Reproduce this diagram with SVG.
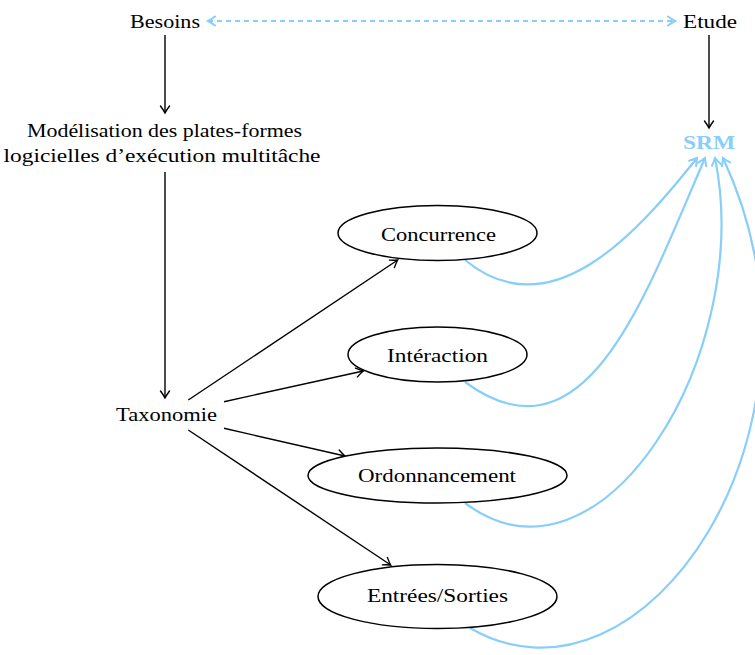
<svg xmlns="http://www.w3.org/2000/svg" width="755" height="655" viewBox="0 0 755 655">
<style>
  text { font-family: "Liberation Serif", "Times New Roman", serif; font-size: 19px; fill: #000; }
  .srm { fill: #87cefa; font-weight: bold; }
  .node ellipse { fill: #fff; stroke: #000; stroke-width: 1.5; }
  .blk { fill: none; stroke: #000; stroke-width: 1.4; marker-end: url(#ab); }
  .blu { fill: none; stroke: #87cefa; stroke-width: 2.2; marker-end: url(#au); }
  .dash { fill: none; stroke: #87cefa; stroke-width: 2; stroke-dasharray: 5 4; marker-start: url(#au2); marker-end: url(#au2); }
</style>
<defs>
  <marker id="ab" markerUnits="userSpaceOnUse" viewBox="-9 -6 11 12" refX="0" refY="0" markerWidth="11" markerHeight="12" orient="auto">
    <path d="M -7,-4.5 Q -2.5,-1.2 0,0 Q -2.5,1.2 -7,4.5" fill="none" stroke="#000" stroke-width="1.4" stroke-linecap="round"/>
  </marker>
  <marker id="au" markerUnits="userSpaceOnUse" viewBox="-9 -6 11 12" refX="0" refY="0" markerWidth="11" markerHeight="12" orient="auto">
    <path d="M -7,-4.5 Q -2.5,-1.2 0,0 Q -2.5,1.2 -7,4.5" fill="none" stroke="#87cefa" stroke-width="2" stroke-linecap="round"/>
  </marker>
  <marker id="au2" markerUnits="userSpaceOnUse" viewBox="-9 -6 11 12" refX="0" refY="0" markerWidth="11" markerHeight="12" orient="auto-start-reverse">
    <path d="M -7,-4.5 Q -2.5,-1.2 0,0 Q -2.5,1.2 -7,4.5" fill="none" stroke="#87cefa" stroke-width="2" stroke-linecap="round"/>
  </marker>
</defs>

<g id="connectors">
  <path class="dash" d="M 208,21 L 675,21"/>
  <path class="blk" d="M 165,35 L 165,113"/>
  <path class="blk" d="M 165,172 L 165,398"/>
  <path class="blk" d="M 709,35 L 709,128"/>
  <path class="blk" d="M 188.3,400 L 397.7,260"/>
  <path class="blk" d="M 224,401.7 L 363.3,371"/>
  <path class="blk" d="M 224,428.3 L 345,456"/>
  <path class="blk" d="M 188.3,430 L 390.7,565"/>
  <path class="blu" d="M 465,260 C 550,330 635,236 697,158"/>
  <path class="blu" d="M 465,382 C 586,471 645,296 705,158"/>
  <path class="blu" d="M 465,503 C 601,605 755,354 715,158"/>
  <path class="blu" d="M 470,628 C 642,728 849,428 723,158"/>
</g>

<g id="besoins"><text x="165" y="28" text-anchor="middle" textLength="70" lengthAdjust="spacingAndGlyphs">Besoins</text></g>
<g id="etude"><text x="710" y="28" text-anchor="middle" textLength="54" lengthAdjust="spacingAndGlyphs">Etude</text></g>
<g id="modelisation">
  <text x="164.5" y="137" text-anchor="middle" textLength="275" lengthAdjust="spacingAndGlyphs">Modélisation des plates-formes</text>
  <text x="162" y="162" text-anchor="middle" textLength="317" lengthAdjust="spacingAndGlyphs">logicielles d’exécution multitâche</text>
</g>
<g id="srm"><text class="srm" x="709" y="149" text-anchor="middle" textLength="52" lengthAdjust="spacingAndGlyphs">SRM</text></g>
<g id="taxonomie"><text x="166.5" y="421" text-anchor="middle" textLength="101" lengthAdjust="spacingAndGlyphs">Taxonomie</text></g>

<g id="concurrence" class="node">
  <ellipse cx="437.5" cy="233" rx="99.5" ry="27.5"/>
  <text x="438.5" y="241" text-anchor="middle" textLength="115" lengthAdjust="spacingAndGlyphs">Concurrence</text>
</g>
<g id="interaction" class="node">
  <ellipse cx="437.5" cy="354.5" rx="89.5" ry="27.5"/>
  <text x="437.5" y="362" text-anchor="middle" textLength="101" lengthAdjust="spacingAndGlyphs">Intéraction</text>
</g>
<g id="ordonnancement" class="node">
  <ellipse cx="437.5" cy="475.5" rx="129.5" ry="27.5"/>
  <text x="437" y="482" text-anchor="middle" textLength="158" lengthAdjust="spacingAndGlyphs">Ordonnancement</text>
</g>
<g id="entrees" class="node">
  <ellipse cx="437.5" cy="596.5" rx="119.5" ry="32"/>
  <text x="437.5" y="602" text-anchor="middle" textLength="141" lengthAdjust="spacingAndGlyphs">Entrées/Sorties</text>
</g>
</svg>
